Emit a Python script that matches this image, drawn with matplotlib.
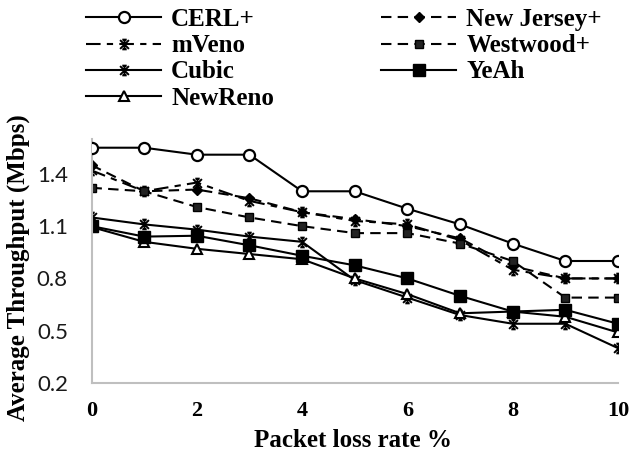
import numpy as np
import matplotlib.pyplot as plt
from matplotlib.path import Path

# packet loss rate (%) on the x axis
loss = [0, 1, 2, 3, 4, 5, 6, 7, 8, 9, 10]

# average throughput (Mbps) per congestion control variant
cerl = [1.55, 1.55, 1.51, 1.51, 1.30, 1.30, 1.20, 1.11, 1.00, 0.90, 0.90]
new_jersey = [1.45, 1.30, 1.31, 1.26, 1.18, 1.14, 1.10, 1.03, 0.87, 0.80, 0.80]
mveno = [1.42, 1.30, 1.35, 1.245, 1.18, 1.13, 1.11, 1.02, 0.85, 0.80, 0.80]
westwood = [1.32, 1.30, 1.21, 1.15, 1.10, 1.06, 1.06, 1.00, 0.90, 0.69, 0.69]
cubic = [1.15, 1.11, 1.08, 1.04, 1.01, 0.79, 0.69, 0.59, 0.54, 0.54, 0.40]
yeah = [1.10, 1.04, 1.045, 0.99, 0.93, 0.875, 0.80, 0.70, 0.61, 0.62, 0.54]
newreno = [1.095, 1.01, 0.97, 0.94, 0.91, 0.80, 0.71, 0.60, 0.61, 0.58, 0.49]

yticks = [0.2, 0.5, 0.8, 1.1, 1.4]
xticks = [0, 2, 4, 6, 8, 10]

# asterisk-like marker: X, vertical bar and small caps
star = Path(
    [(-1, -1), (1, 1), (-1, 1), (1, -1), (0, -1.1), (0, 1.1),
     (-0.5, 1.1), (0.5, 1.1), (-0.5, -1.1), (0.5, -1.1)],
    [Path.MOVETO, Path.LINETO] * 5)

serif = 'Liberation Serif'
fig = plt.figure(figsize=(6.34, 4.58), dpi=100)
ax = fig.add_axes([91.5 / 634, 75 / 458, (618 - 91.5) / 634, 244 / 458])

lw = 1.5
dash = (5, 3)
ax.plot(loss, cerl, '-', color='black', lw=lw, marker='o', ms=8,
        mfc='white', mec='black', mew=1.6, label='CERL+', zorder=5)
ax.plot(loss, mveno, color='black', lw=lw, dashes=(7, 3, 3, 3), marker=star,
        ms=7, mfc='none', mec='black', mew=1.4, label='mVeno')
ax.plot(loss, cubic, '-', color='black', lw=lw, marker=star, ms=7,
        mfc='none', mec='black', mew=1.4, label='Cubic')
ax.plot(loss, newreno, '-', color='black', lw=lw, marker='^', ms=7,
        mfc='white', mec='black', mew=1.5, label='NewReno')
ax.plot(loss, new_jersey, color='black', lw=lw, dashes=dash, marker='D',
        ms=5.5, mfc='black', mec='black', label='New Jersey+')
ax.plot(loss, westwood, color='black', lw=lw, dashes=dash, marker='s',
        ms=5.5, mfc='#222222', mec='black', label='Westwood+')
ax.plot(loss, yeah, '-', color='black', lw=lw, marker='s', ms=8,
        mfc='black', mec='black', label='YeAh')

ax.set_xlim(0, 10)
ax.set_ylim(0.2, 1.6)
ax.set_xticks(xticks)
ax.set_yticks(yticks)
ax.set_yticklabels([f'{v:.1f}' for v in yticks], family='Lato',
                   fontsize=16, color='#1a1a1a')
ax.set_xticklabels([str(v) for v in xticks], family=serif,
                   fontweight='bold', fontsize=16)
ax.tick_params(axis='both', length=0)
ax.tick_params(axis='y', pad=17)
ax.tick_params(axis='x', pad=13)

for side in ('top', 'right'):
    ax.spines[side].set_visible(False)
for side in ('left', 'bottom'):
    ax.spines[side].set_color('#bfbfbf')
    ax.spines[side].set_linewidth(1.5)

ax.set_xlabel('Packet loss rate %', family=serif, fontweight='bold',
              fontsize=18)
ax.set_ylabel('Average Throughput (Mbps)', family=serif, fontweight='bold',
              fontsize=18)
ax.xaxis.set_label_coords(0.497, -0.234)
ax.yaxis.set_label_coords(-0.14, 0.473)
ax.xaxis.label.set_va('center')
ax.yaxis.label.set_va('center')

fig.legend(loc='upper left', bbox_to_anchor=(86 / 634, 1 - 8 / 458), ncol=2,
           frameon=False, handlelength=3.0, columnspacing=4.3,
           labelspacing=0.13, handletextpad=0.4, borderpad=0,
           borderaxespad=0,
           prop={'family': serif, 'weight': 'bold', 'size': 18})

fig.savefig('out.png', dpi=100)
